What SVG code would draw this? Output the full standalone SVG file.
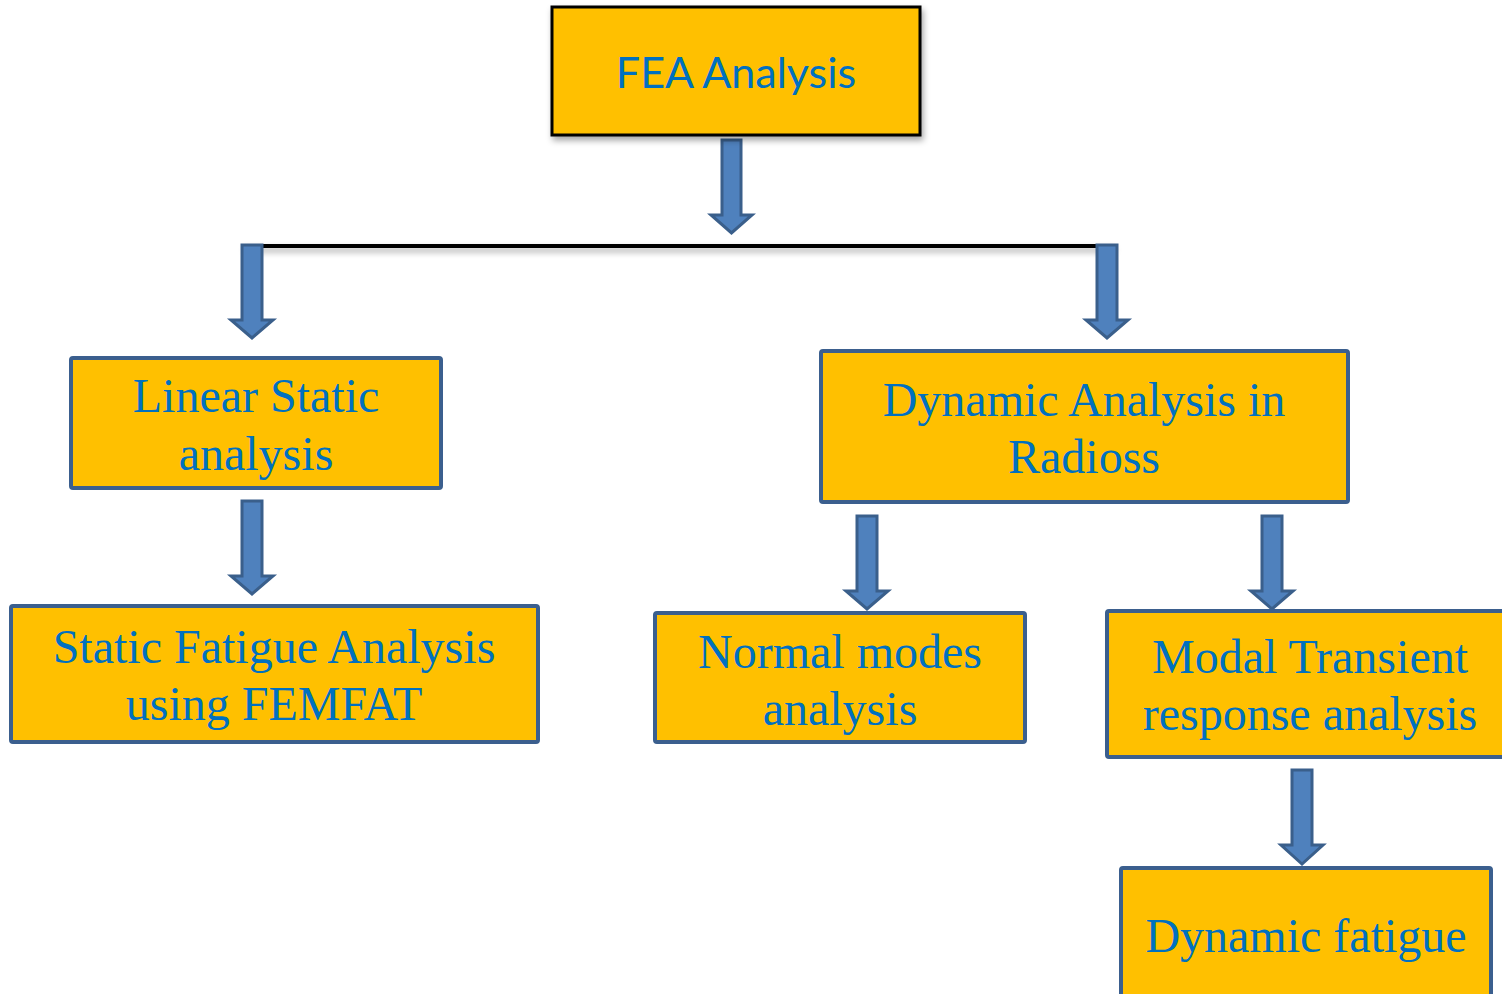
<svg xmlns="http://www.w3.org/2000/svg" width="1502" height="994" viewBox="0 0 1502 994">
<defs>
<style>
.box{fill:#FFC000;stroke:#3B5F8E;stroke-width:4}
.top{fill:#FFC000;stroke:#000;stroke-width:3}
.t{font-family:"Liberation Serif","Times New Roman",serif;font-size:48px;fill:#0070C0;text-anchor:middle}
.s{font-family:Lato,"Open Sans",sans-serif;font-size:43px;fill:#0070C0;text-anchor:middle}
.arr{fill:#4F81BD;stroke:#3A5F8B;stroke-width:3;stroke-linejoin:miter}
</style>
<filter id="sh" filterUnits="userSpaceOnUse" x="0" y="0" width="1502" height="994">
<feDropShadow dx="2" dy="4" stdDeviation="3" flood-color="#000" flood-opacity="0.35"/>
</filter>
</defs>
<g id="connectors">
<rect x="243" y="244" width="870" height="4" fill="#000" filter="url(#sh)"/>
<path class="arr" d="M722,140 H741 V215 H752 L731.5,233 L711,215 H722 Z"/>
<path class="arr" d="M242,245 H262 V320 H273 L252,338 L231,320 H242 Z"/>
<path class="arr" d="M1097,245 H1117 V320 H1128 L1107,338 L1086,320 H1097 Z"/>
<path class="arr" d="M242,501 H262 V576 H273 L252,594 L231,576 H242 Z"/>
<path class="arr" d="M857,516 H877 V591 H888 L867,609 L846,591 H857 Z"/>
<path class="arr" d="M1262,516 H1282 V591 H1293 L1272,609 L1251,591 H1262 Z"/>
<path class="arr" d="M1292,770 H1312 V845 H1323 L1302,864 L1281,845 H1292 Z"/>
</g>
<g id="fea">
<rect class="top" x="552" y="7" width="368" height="128" filter="url(#sh)"/>
<text class="s" x="736" y="88">FEA Analysis</text>
</g>
<g id="linear-static">
<rect class="box" x="71" y="358" width="370" height="130" rx="2"/>
<text class="t" x="256" y="412">Linear Static</text>
<text class="t" x="256" y="470">analysis</text>
</g>
<g id="static-fatigue">
<rect class="box" x="11" y="606" width="527" height="136" rx="2"/>
<text class="t" x="274" y="663">Static Fatigue Analysis</text>
<text class="t" x="274" y="720">using FEMFAT</text>
</g>
<g id="dynamic-analysis">
<rect class="box" x="821" y="351" width="527" height="151" rx="2"/>
<text class="t" x="1084" y="416">Dynamic Analysis in</text>
<text class="t" x="1084" y="473">Radioss</text>
</g>
<g id="normal-modes">
<rect class="box" x="655" y="613" width="370" height="129" rx="2"/>
<text class="t" x="840" y="668">Normal modes</text>
<text class="t" x="840" y="725">analysis</text>
</g>
<g id="modal-transient">
<rect class="box" x="1107" y="611" width="400" height="146" rx="2"/>
<text class="t" x="1310" y="673">Modal Transient</text>
<text class="t" x="1310" y="730">response analysis</text>
</g>
<g id="dynamic-fatigue">
<rect class="box" x="1121" y="868" width="370" height="140" rx="2"/>
<text class="t" x="1306" y="952">Dynamic fatigue</text>
</g>
</svg>
